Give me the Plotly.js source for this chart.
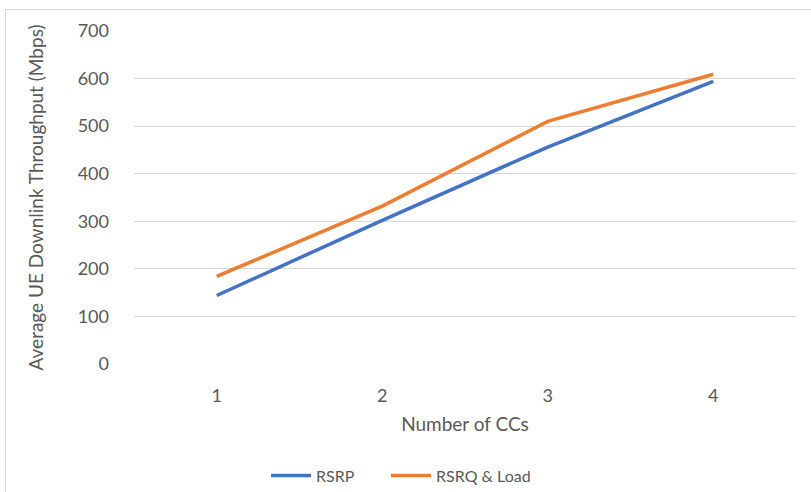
<!DOCTYPE html>
<html>
<head>
<meta charset="utf-8">
<script src="https://cdn.plot.ly/plotly-3.0.1.min.js"></script>
<style>
html,body{margin:0;padding:0;background:#fff;}
#wrap{position:relative;width:811px;height:492px;}
#chart{width:811px;height:492px;}
#frame{position:absolute;left:5px;top:9px;width:806px;height:483px;border-top:1px solid #d9d9d9;border-left:1px solid #d9d9d9;pointer-events:none;}
</style>
</head>
<body>
<div id="wrap"><div id="chart"></div><div id="frame"></div></div>
<script>
const categories = ['1', '2', '3', '4'];
const rsrp = [144, 302, 456, 594];
const rsrqLoad = [184, 332, 510, 609];
const yTicks = [0, 100, 200, 300, 400, 500, 600, 700];

const fontFam = 'Lato, "Open Sans", sans-serif';
const traces = [
  {x: categories, y: rsrp, name: 'RSRP', type: 'scatter', mode: 'lines',
   line: {color: '#4472C4', width: 3.5}, legend: 'legend'},
  {x: categories, y: rsrqLoad, name: 'RSRQ & Load', type: 'scatter', mode: 'lines',
   line: {color: '#ED7D31', width: 3.5}, legend: 'legend2'}
];
const legendBase = {orientation: 'h', xanchor: 'left', y: -0.335, yanchor: 'middle',
                    font: {size: 16, color: '#595959'}, itemwidth: 40};
const layout = {
  width: 811, height: 492,
  margin: {l: 134, r: 15, t: 31, b: 128, autoexpand: false},
  paper_bgcolor: '#fff', plot_bgcolor: '#fff',
  font: {family: fontFam, color: '#595959', size: 18},
  showlegend: true,
  legend: Object.assign({}, legendBase, {x: 0.1994}),
  legend2: Object.assign({}, legendBase, {x: 0.3807}),
  xaxis: {type: 'category', range: [-0.5, 3.5], showgrid: false, zeroline: false, showline: false,
          ticks: '', ticklabelstandoff: 19, tickfont: {size: 18},
          title: {text: 'Number of CCs', font: {size: 19, color: '#595959'}, standoff: 12},
          automargin: false},
  yaxis: {range: [0, 700], tickvals: yTicks, ticktext: yTicks.map(String),
          showgrid: true, gridcolor: '#d9d9d9', gridwidth: 1, zeroline: false,
          showline: false, ticks: '', ticklabelstandoff: 24, tickfont: {size: 18},
          title: {text: 'Average UE Downlink Throughput (Mbps)', font: {size: 19, color: '#595959'}, standoff: 29},
          automargin: false}
};
Plotly.newPlot('chart', traces, layout, {displayModeBar: false, staticPlot: true});
</script>
</body>
</html>
